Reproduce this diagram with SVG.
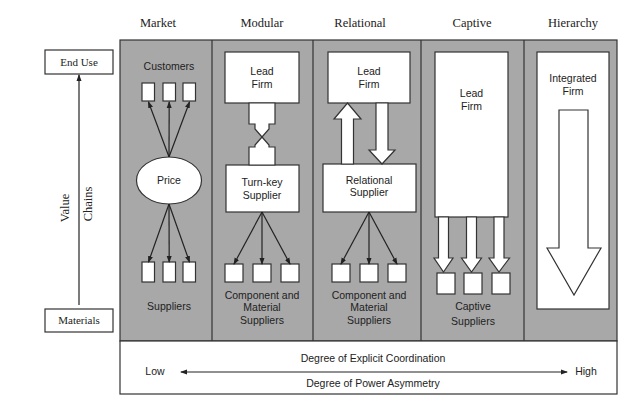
<svg xmlns="http://www.w3.org/2000/svg" width="619" height="396" viewBox="0 0 619 396">
<defs>
<marker id="ah" markerWidth="7" markerHeight="6" refX="6" refY="3" orient="auto-start-reverse" markerUnits="userSpaceOnUse">
<path d="M0,0.5 L7,3 L0,5.5 z" fill="#222"/>
</marker>
</defs>
<style>
.hdr{font-family:"Liberation Serif","Times New Roman",serif;font-size:12.5px;fill:#222;text-anchor:middle}
.ser{font-family:"Liberation Serif","Times New Roman",serif;font-size:11px;fill:#222;text-anchor:middle}
.lbl{font-family:"Liberation Sans",Arial,sans-serif;font-size:10.5px;fill:#222;text-anchor:middle}
.box{fill:#fff;stroke:#333;stroke-width:1.2}
.ln{stroke:#222;stroke-width:1.2;fill:none}
.div{stroke:#333;stroke-width:1.2}
</style>
<rect width="619" height="396" fill="#fff"/>

<g id="headers">
<text class="hdr" x="158" y="27">Market</text>
<text class="hdr" x="262" y="27">Modular</text>
<text class="hdr" x="360" y="27">Relational</text>
<text class="hdr" x="472" y="27">Captive</text>
<text class="hdr" x="573" y="27">Hierarchy</text>
</g>

<g id="panel">
<rect x="120" y="40" width="497" height="301" fill="#a8a8a8" stroke="#333" stroke-width="1.2"/>
<line class="div" x1="212" y1="40" x2="212" y2="341"/>
<line class="div" x1="313" y1="40" x2="313" y2="341"/>
<line class="div" x1="421" y1="40" x2="421" y2="341"/>
<line class="div" x1="524" y1="40" x2="524" y2="341"/>
</g>

<g id="value-chain">
<rect class="box" x="45" y="50" width="68" height="24"/>
<text class="ser" x="79" y="66">End Use</text>
<rect class="box" x="45" y="309" width="68" height="23"/>
<text class="ser" x="79" y="324">Materials</text>
<text class="hdr" transform="translate(69,208) rotate(-90)">Value</text>
<text class="hdr" transform="translate(92,204) rotate(-90)">Chains</text>
</g>

<g id="market">
<text class="lbl" x="169" y="70">Customers</text>
<rect class="box" x="142" y="83" width="12.5" height="18"/>
<rect class="box" x="163" y="83" width="12.5" height="18"/>
<rect class="box" x="183" y="83" width="12.5" height="18"/>
<ellipse class="box" cx="169" cy="180.5" rx="32.5" ry="23.5"/>
<text class="lbl" x="169" y="184">Price</text>
<rect class="box" x="142" y="262" width="12.5" height="20"/>
<rect class="box" x="163" y="262" width="12.5" height="20"/>
<rect class="box" x="183" y="262" width="12.5" height="20"/>
<text class="lbl" x="169" y="310">Suppliers</text>
</g>

<g id="modular">
<rect class="box" x="225" y="52" width="74" height="51"/>
<text class="lbl" x="262" y="75">Lead</text>
<text class="lbl" x="262" y="88">Firm</text>
<rect class="box" x="226" y="165" width="73" height="47"/>
<text class="lbl" x="262" y="186">Turn-key</text>
<text class="lbl" x="262" y="199">Supplier</text>
<rect class="box" x="225" y="264" width="18" height="18"/>
<rect class="box" x="253" y="264" width="18" height="18"/>
<rect class="box" x="281" y="264" width="18" height="18"/>
<text class="lbl" x="262" y="299">Component and</text>
<text class="lbl" x="262" y="311">Material</text>
<text class="lbl" x="262" y="324">Suppliers</text>
</g>

<g id="relational">
<rect class="box" x="328" y="52" width="82" height="51"/>
<text class="lbl" x="369" y="75">Lead</text>
<text class="lbl" x="369" y="88">Firm</text>
<rect class="box" x="323" y="164" width="93" height="48"/>
<text class="lbl" x="369" y="184">Relational</text>
<text class="lbl" x="369" y="196">Supplier</text>
<rect class="box" x="332" y="264" width="18" height="18"/>
<rect class="box" x="360" y="264" width="18" height="18"/>
<rect class="box" x="388" y="264" width="18" height="18"/>
<text class="lbl" x="369" y="299">Component and</text>
<text class="lbl" x="369" y="311">Material</text>
<text class="lbl" x="369" y="324">Suppliers</text>
</g>

<g id="captive">
<rect class="box" x="435" y="52" width="73" height="165"/>
<text class="lbl" x="471.5" y="97">Lead</text>
<text class="lbl" x="471.5" y="110">Firm</text>
<rect class="box" x="437" y="273" width="18" height="21"/>
<rect class="box" x="464" y="273" width="18" height="21"/>
<rect class="box" x="492" y="273" width="18" height="21"/>
<text class="lbl" x="473" y="310">Captive</text>
<text class="lbl" x="473" y="325">Suppliers</text>
</g>

<g id="hierarchy">
<rect class="box" x="537" y="52" width="72" height="257"/>
<text class="lbl" x="573" y="82">Integrated</text>
<text class="lbl" x="573" y="95">Firm</text>
<polygon class="box" points="559,110 588,110 588,248 601,248 574,295 547,248 559,248"/>
</g>

<g id="coordination">
<rect class="box" x="120" y="341" width="497" height="53"/>
<text class="lbl" x="373" y="362">Degree of Explicit Coordination</text>
<line class="ln" x1="181" y1="372" x2="567" y2="372" marker-start="url(#ah)" marker-end="url(#ah)"/>
<text class="lbl" x="155" y="375">Low</text>
<text class="lbl" x="586" y="375">High</text>
<text class="lbl" x="373" y="387">Degree of Power Asymmetry</text>
</g>

<g id="connectors">
<line class="ln" x1="79" y1="305" x2="79" y2="75" marker-end="url(#ah)"/>
<line class="ln" x1="169" y1="157" x2="148.5" y2="102" marker-end="url(#ah)"/>
<line class="ln" x1="169" y1="157" x2="169.2" y2="102" marker-end="url(#ah)"/>
<line class="ln" x1="169" y1="157" x2="189.5" y2="102" marker-end="url(#ah)"/>
<line class="ln" x1="169" y1="204" x2="148.5" y2="262" marker-end="url(#ah)"/>
<line class="ln" x1="169" y1="204" x2="169.2" y2="262" marker-end="url(#ah)"/>
<line class="ln" x1="169" y1="204" x2="189.5" y2="262" marker-end="url(#ah)"/>
<polygon class="box" points="249,103 275,103 275,124 269,124 269,129 262,137 255,129 255,124 249,124"/>
<polygon class="box" points="249,165 275,165 275,147 269,147 269,145 262,137 255,145 255,147 249,147"/>
<line class="ln" x1="262" y1="212" x2="234" y2="264" marker-end="url(#ah)"/>
<line class="ln" x1="262" y1="212" x2="262" y2="264" marker-end="url(#ah)"/>
<line class="ln" x1="262" y1="212" x2="290" y2="264" marker-end="url(#ah)"/>
<polygon class="box" points="341.5,164 341.5,119 334,119 347.5,103 361,119 353.5,119 353.5,164"/>
<polygon class="box" points="376,103 388,103 388,150 395,150 382,164 369,150 376,150"/>
<line class="ln" x1="369" y1="212" x2="341" y2="264" marker-end="url(#ah)"/>
<line class="ln" x1="369" y1="212" x2="369" y2="264" marker-end="url(#ah)"/>
<line class="ln" x1="369" y1="212" x2="397" y2="264" marker-end="url(#ah)"/>
<polygon class="box" points="438.5,217 448.5,217 448.5,258 453,258 443.5,272 434,258 438.5,258"/>
<polygon class="box" points="466.5,217 476.5,217 476.5,258 481.5,258 471.5,272 461.5,258 466.5,258"/>
<polygon class="box" points="494,217 504,217 504,258 509.5,258 499,272 489,258 494,258"/>
</g>
</svg>
